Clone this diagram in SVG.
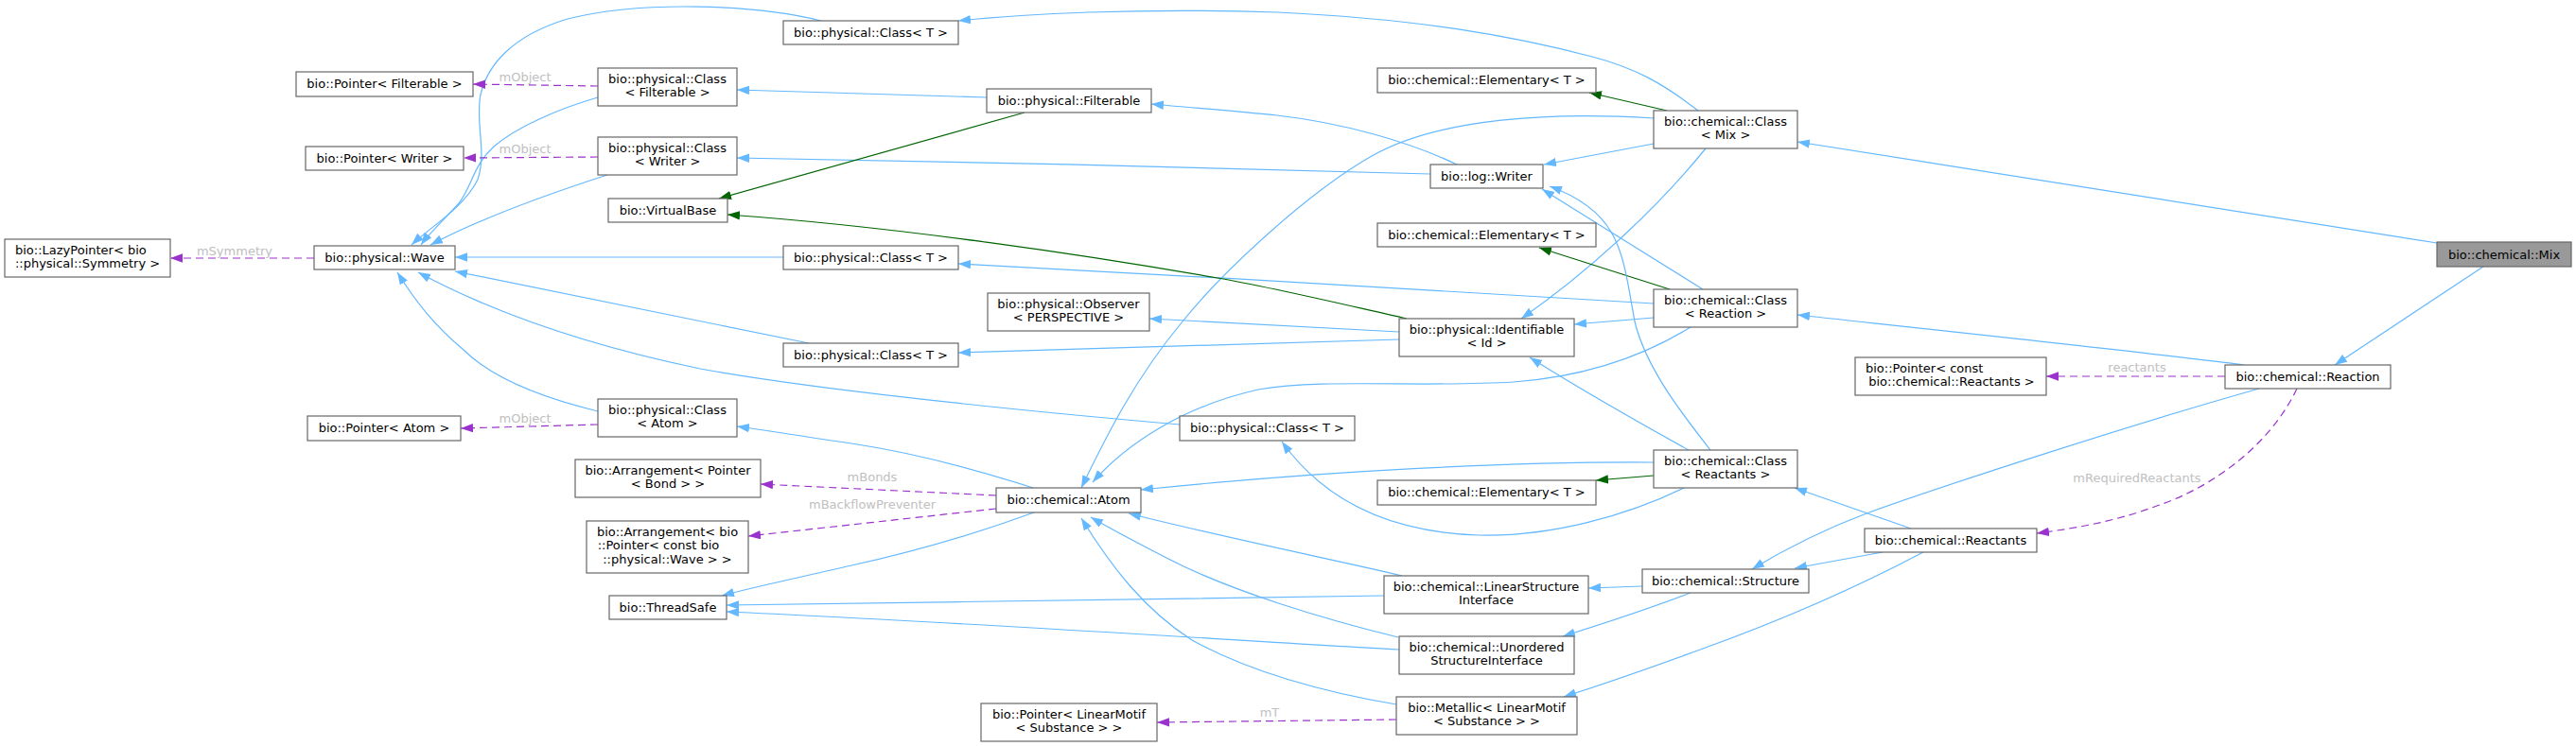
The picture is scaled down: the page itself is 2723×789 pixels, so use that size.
<svg xmlns="http://www.w3.org/2000/svg" width="2723" height="789" viewBox="0 0 2723 789">
<style>
.node rect{fill:#ffffff;stroke:#666666;stroke-width:1.2}
.node text{font-family:"DejaVu Sans","Noto Sans",sans-serif;font-size:13px;fill:#000000;text-anchor:middle}
.node text.l{text-anchor:start}
.e path{fill:none;stroke:#63b8ff;stroke-width:1.2;marker-end:url(#ab)}
.e path.g{stroke:#006400;marker-end:url(#ag)}
.e path.p{stroke:#9a32cd;stroke-dasharray:8,5;marker-end:url(#ap)}
.lbl{font-family:"DejaVu Sans","Noto Sans",sans-serif;font-size:13px;fill:#c0c0c0;text-anchor:middle}
</style>
<defs>
<marker id="ab" markerUnits="userSpaceOnUse" markerWidth="14" markerHeight="10" refX="13" refY="4.7" orient="auto"><path d="M0,0 L13,4.7 L0,9.4 z" fill="#63b8ff"/></marker>
<marker id="ag" markerUnits="userSpaceOnUse" markerWidth="14" markerHeight="10" refX="13" refY="4.7" orient="auto"><path d="M0,0 L13,4.7 L0,9.4 z" fill="#006400"/></marker>
<marker id="ap" markerUnits="userSpaceOnUse" markerWidth="14" markerHeight="10" refX="13" refY="4.7" orient="auto"><path d="M0,0 L13,4.7 L0,9.4 z" fill="#9a32cd"/></marker>
</defs>
<rect width="2723" height="789" fill="#ffffff"/>
<g id="connectors" class="e">
<path d="M2576,257 L1900,150"/>
<path d="M2625,282 L2468,386"/>
<path d="M2372,386 C2300,376 2000,344 1900,333"/>
<path d="M2388,411 C2250,450 2050,515 1973,543 C1920,563 1880,585 1852,602"/>
<path d="M1795,117 C1760,90 1730,72 1683,60 C1600,38 1500,20 1350,13 C1200,8 1080,15 1013,22"/>
<path class="g" d="M1762,117 L1680,98"/>
<path d="M1748,152 L1632,174"/>
<path d="M1803,157 C1760,210 1690,280 1608,337"/>
<path d="M1748,125 C1640,118 1520,125 1450,165 C1380,205 1290,290 1250,340 C1200,400 1170,460 1143,516"/>
<path d="M1787,346 C1740,375 1680,398 1600,404 C1500,410 1400,400 1330,412 C1250,430 1190,470 1155,510"/>
<path class="g" d="M1765,306 L1627,262"/>
<path d="M1800,306 L1630,200"/>
<path d="M1808,476 C1780,440 1740,390 1728,340 C1715,270 1715,225 1638,197"/>
<path d="M1748,336 L1664,343"/>
<path d="M1748,321 C1550,309 1250,291 1013,279"/>
<path d="M1785,476 C1720,440 1660,405 1617,378"/>
<path d="M1748,489 C1600,488 1400,498 1206,518"/>
<path class="g" d="M1748,503 L1687,508"/>
<path d="M1780,516 C1720,545 1640,568 1563,566 C1470,563 1400,530 1355,467"/>
<path d="M2020,559 L1897,516"/>
<path d="M1990,584 L1897,601"/>
<path d="M2033,584 C1980,612 1900,650 1800,686 C1740,708 1690,725 1653,737"/>
<path d="M1736,620 L1679,622"/>
<path d="M1787,627 C1740,645 1700,658 1652,673"/>
<path d="M1482,609 C1420,594 1300,570 1193,543"/>
<path d="M1463,630 C1300,632 1000,637 768,640"/>
<path d="M1479,687 C1300,677 1000,657 768,647"/>
<path d="M1478,674 C1400,655 1300,625 1233,590 C1200,573 1175,560 1153,547"/>
<path d="M1476,745 C1400,732 1320,710 1260,677 C1210,645 1175,600 1143,548"/>
<path d="M1093,542 C1030,565 960,585 900,598 C840,612 800,620 763,630"/>
<path d="M1092,516 C1030,496 960,478 900,469 C850,462 810,455 779,451"/>
<path d="M1540,174 C1490,150 1420,130 1350,122 C1300,117 1260,114 1217,110"/>
<path d="M1512,184 C1300,178 1000,170 779,167"/>
<path d="M1043,103 L779,95"/>
<path class="g" d="M1083,119 L760,210"/>
<path class="g" d="M1487,337 C1420,322 1350,305 1287,294 C1150,270 950,240 769,227"/>
<path d="M1479,351 L1215,337"/>
<path d="M1479,359 L1013,373"/>
<path d="M868,22 C800,5 680,0 600,20 C540,38 515,70 508,100 C502,130 515,160 505,190 C490,220 455,240 435,259"/>
<path d="M632,103 C590,115 545,135 522,155 C500,175 500,195 485,215 C470,232 455,245 445,259"/>
<path d="M642,185 C580,205 510,230 455,259"/>
<path d="M828,272 L481,272"/>
<path d="M855,363 L481,287"/>
<path d="M1247,449 C1050,432 850,410 740,390 C620,365 520,330 442,288"/>
<path d="M632,435 C570,420 520,400 490,370 C460,345 440,320 420,288"/>
<path class="p" d="M632,91 L500,89"/>
<path class="p" d="M632,166 L490,167"/>
<path class="p" d="M332,273 L180,273"/>
<path class="p" d="M632,449 L487,453"/>
<path class="p" d="M1053,524 L804,512"/>
<path class="p" d="M1053,538 L791,567"/>
<path class="p" d="M1476,761 L1223,764"/>
<path class="p" d="M2352,398 L2163,398"/>
<path class="p" d="M2428,411 C2400,470 2340,515 2280,535 C2240,550 2200,558 2153,564"/>
<text class="lbl" x="555" y="86">mObject</text>
<text class="lbl" x="555" y="162">mObject</text>
<text class="lbl" x="248" y="270">mSymmetry</text>
<text class="lbl" x="555" y="447">mObject</text>
<text class="lbl" x="922" y="509">mBonds</text>
<text class="lbl" x="922" y="538">mBackflowPreventer</text>
<text class="lbl" x="1342" y="758">mT</text>
<text class="lbl" x="2259" y="393">reactants</text>
<text class="lbl" x="2259" y="510">mRequiredReactants</text>
</g>
<g id="n_mix" class="node"><rect x="2576" y="256" width="142" height="26" style="fill:#999999"/><text x="2647" y="273.5">bio::chemical::Mix</text></g>
<g id="n_classmix" class="node"><rect x="1748" y="117" width="152" height="40"/><text x="1824" y="132.8">bio::chemical::Class</text><text x="1824" y="147.2">&lt; Mix &gt;</text></g>
<g id="n_classreaction" class="node"><rect x="1748" y="306" width="152" height="40"/><text x="1824" y="321.8">bio::chemical::Class</text><text x="1824" y="336.2">&lt; Reaction &gt;</text></g>
<g id="n_reaction" class="node"><rect x="2352" y="386" width="175" height="25"/><text x="2439.5" y="402.8">bio::chemical::Reaction</text></g>
<g id="n_ptrreactants" class="node"><rect x="1961" y="378" width="202" height="40"/><text class="l" x="1972" y="393.8">bio::Pointer&lt; const</text><text x="2063" y="408.2">bio::chemical::Reactants &gt;</text></g>
<g id="n_reactants" class="node"><rect x="1971" y="559" width="182" height="25"/><text x="2062" y="575.8">bio::chemical::Reactants</text></g>
<g id="n_classreactants" class="node"><rect x="1748" y="476" width="152" height="40"/><text x="1824" y="491.8">bio::chemical::Class</text><text x="1824" y="506.2">&lt; Reactants &gt;</text></g>
<g id="n_structure" class="node"><rect x="1736" y="602" width="176" height="25"/><text x="1824" y="618.8">bio::chemical::Structure</text></g>
<g id="n_lsi" class="node"><rect x="1463" y="609" width="216" height="40"/><text x="1571" y="624.8">bio::chemical::LinearStructure</text><text x="1571" y="639.2">Interface</text></g>
<g id="n_unordered" class="node"><rect x="1479" y="673" width="185" height="40"/><text x="1571.5" y="688.8">bio::chemical::Unordered</text><text x="1571.5" y="703.2">StructureInterface</text></g>
<g id="n_metallic" class="node"><rect x="1476" y="737" width="191" height="40"/><text x="1571.5" y="752.8">bio::Metallic&lt; LinearMotif</text><text x="1571.5" y="767.2">&lt; Substance &gt; &gt;</text></g>
<g id="n_ptrlinearmotif" class="node"><rect x="1037" y="744" width="186" height="40"/><text x="1130" y="759.8">bio::Pointer&lt; LinearMotif</text><text x="1130" y="774.2">&lt; Substance &gt; &gt;</text></g>
<g id="n_atom" class="node"><rect x="1053" y="516" width="153" height="26"/><text x="1129.5" y="533.3">bio::chemical::Atom</text></g>
<g id="n_classT4" class="node"><rect x="1247" y="440" width="185" height="26"/><text x="1339.5" y="457.3">bio::physical::Class&lt; T &gt;</text></g>
<g id="n_elem3" class="node"><rect x="1456" y="508" width="231" height="26"/><text x="1571.5" y="525.3">bio::chemical::Elementary&lt; T &gt;</text></g>
<g id="n_identifiable" class="node"><rect x="1479" y="337" width="185" height="40"/><text x="1571.5" y="352.8">bio::physical::Identifiable</text><text x="1571.5" y="367.2">&lt; Id &gt;</text></g>
<g id="n_elem2" class="node"><rect x="1456" y="236" width="231" height="25"/><text x="1571.5" y="252.8">bio::chemical::Elementary&lt; T &gt;</text></g>
<g id="n_elem1" class="node"><rect x="1456" y="72" width="231" height="26"/><text x="1571.5" y="89.3">bio::chemical::Elementary&lt; T &gt;</text></g>
<g id="n_writer" class="node"><rect x="1512" y="174" width="119" height="25"/><text x="1571.5" y="190.8">bio::log::Writer</text></g>
<g id="n_filterable" class="node"><rect x="1043" y="94" width="174" height="25"/><text x="1130" y="110.8">bio::physical::Filterable</text></g>
<g id="n_observer" class="node"><rect x="1044" y="310" width="171" height="40"/><text x="1129.5" y="325.8">bio::physical::Observer</text><text x="1129.5" y="340.2">&lt; PERSPECTIVE &gt;</text></g>
<g id="n_classT1" class="node"><rect x="828" y="22" width="185" height="25"/><text x="920.5" y="38.8">bio::physical::Class&lt; T &gt;</text></g>
<g id="n_classT2" class="node"><rect x="828" y="260" width="185" height="25"/><text x="920.5" y="276.8">bio::physical::Class&lt; T &gt;</text></g>
<g id="n_classT3" class="node"><rect x="828" y="363" width="185" height="25"/><text x="920.5" y="379.8">bio::physical::Class&lt; T &gt;</text></g>
<g id="n_classfilterable" class="node"><rect x="632" y="72" width="147" height="40"/><text x="705.5" y="87.8">bio::physical::Class</text><text x="705.5" y="102.2">&lt; Filterable &gt;</text></g>
<g id="n_classwriter" class="node"><rect x="632" y="145" width="147" height="40"/><text x="705.5" y="160.8">bio::physical::Class</text><text x="705.5" y="175.2">&lt; Writer &gt;</text></g>
<g id="n_virtualbase" class="node"><rect x="643" y="210" width="126" height="25"/><text x="706" y="226.8">bio::VirtualBase</text></g>
<g id="n_classatom" class="node"><rect x="632" y="422" width="147" height="40"/><text x="705.5" y="437.8">bio::physical::Class</text><text x="705.5" y="452.2">&lt; Atom &gt;</text></g>
<g id="n_arrbond" class="node"><rect x="608" y="486" width="196" height="40"/><text x="706" y="501.8">bio::Arrangement&lt; Pointer</text><text x="706" y="516.2">&lt; Bond &gt; &gt;</text></g>
<g id="n_arrwave" class="node"><rect x="620" y="551" width="171" height="55"/><text x="705.5" y="566.7">bio::Arrangement&lt; bio</text><text class="l" x="631.7" y="581.2">::Pointer&lt; const bio</text><text x="705.5" y="595.7">::physical::Wave &gt; &gt;</text></g>
<g id="n_threadsafe" class="node"><rect x="644" y="630" width="124" height="25"/><text x="706" y="646.8">bio::ThreadSafe</text></g>
<g id="n_wave" class="node"><rect x="332" y="260" width="149" height="25"/><text x="406.5" y="276.8">bio::physical::Wave</text></g>
<g id="n_lazy" class="node"><rect x="5" y="253" width="175" height="40"/><text class="l" x="16" y="268.8">bio::LazyPointer&lt; bio</text><text x="92.5" y="283.2">::physical::Symmetry &gt;</text></g>
<g id="n_ptrfilterable" class="node"><rect x="313" y="76" width="187" height="26"/><text x="406.5" y="93.3">bio::Pointer&lt; Filterable &gt;</text></g>
<g id="n_ptrwriter" class="node"><rect x="323" y="155" width="167" height="25"/><text x="406.5" y="171.8">bio::Pointer&lt; Writer &gt;</text></g>
<g id="n_ptratom" class="node"><rect x="325" y="440" width="162" height="26"/><text x="406" y="457.3">bio::Pointer&lt; Atom &gt;</text></g>
</svg>
